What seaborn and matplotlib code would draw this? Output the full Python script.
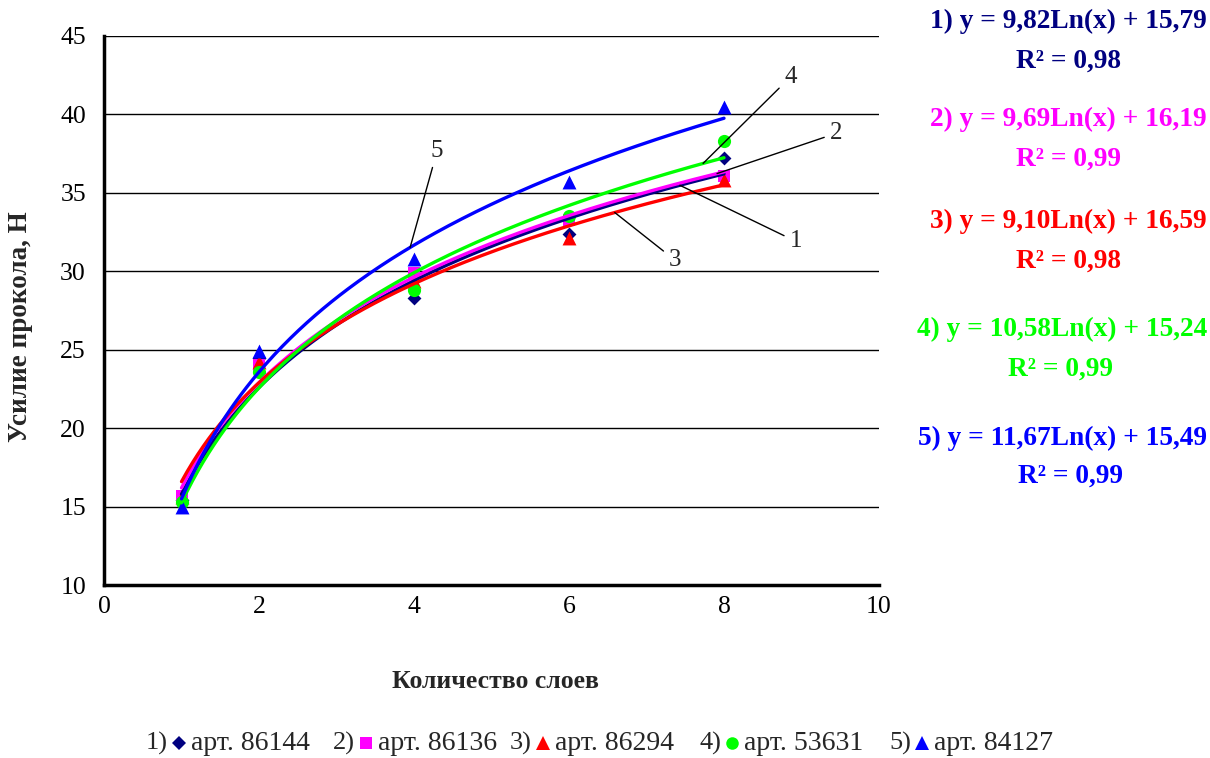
import numpy as np
import pandas as pd
import matplotlib
matplotlib.use("Agg")
import matplotlib.pyplot as plt
from matplotlib.lines import Line2D
import seaborn as sns

# Measured puncture force for each fabric article vs. number of layers
layers = [1, 2, 4, 6, 8]
art_86144 = [15.4, 24.5, 28.3, 32.4, 37.2]
art_86136 = [15.7, 24.0, 29.9, 33.3, 36.1]
art_86294 = [15.6, 24.2, 29.4, 32.1, 35.8]
art_53631 = [15.3, 23.6, 28.8, 33.5, 38.3]
art_84127 = [15.0, 24.9, 30.8, 35.7, 40.5]

series_names = ["арт. 86144", "арт. 86136", "арт. 86294", "арт. 53631", "арт. 84127"]
series_values = [art_86144, art_86136, art_86294, art_53631, art_84127]

# Logarithmic trend coefficients y = a*Ln(x) + b and R²
trend_a = [9.82, 9.69, 9.10, 10.58, 11.67]
trend_b = [15.79, 16.19, 16.59, 15.24, 15.49]
trend_r2 = [0.98, 0.99, 0.98, 0.99, 0.99]

colors = ["#000080", "#FF00FF", "#FF0000", "#00FF00", "#0000FF"]
markers = ["D", "s", "^", "o", "^"]
marker_sizes = [50, 70, 100, 90, 100]

sns.set_style("white")
plt.rcParams["font.family"] = ["Liberation Serif", "DejaVu Serif"]

W, H = 1210, 758
fig = plt.figure(figsize=(W / 100, H / 100), dpi=100)
ax = fig.add_axes([104 / W, 1 - 585 / H, (879 - 104) / W, (585 - 36) / H])

pts = pd.DataFrame({
    "layers": np.tile(layers, len(series_names)),
    "force": np.concatenate(series_values),
    "series": np.repeat(series_names, len(layers)),
})

for name, col, mk, sz in zip(series_names, colors, markers, marker_sizes):
    sns.scatterplot(data=pts[pts["series"] == name], x="layers", y="force",
                    color=col, marker=mk, s=sz, linewidth=0, ax=ax,
                    legend=False, zorder=3)

xs = np.linspace(min(layers), max(layers), 200)
curves = pd.DataFrame({
    "layers": np.tile(xs, len(series_names)),
    "force": np.concatenate([a * np.log(xs) + b for a, b in zip(trend_a, trend_b)]),
    "series": np.repeat(series_names, len(xs)),
})
sns.lineplot(data=curves, x="layers", y="force", hue="series",
             palette=dict(zip(series_names, colors)), linewidth=2.4,
             legend=False, ax=ax, zorder=4, sort=False)

ax.set_xlim(0, 10)
ax.set_ylim(10, 45)
ax.set_xticks(range(0, 11, 2))
ax.set_yticks(range(10, 46, 5))
ax.yaxis.grid(True, color="black", linewidth=1)
ax.xaxis.grid(False)
ax.set_axisbelow(True)
for side in ["top", "right"]:
    ax.spines[side].set_visible(False)
for side in ["left", "bottom"]:
    ax.spines[side].set_linewidth(2.5)
    ax.spines[side].set_color("black")
ax.tick_params(axis="both", direction="out", length=5, width=2.5,
               labelsize=18.5, colors="black")
ax.tick_params(axis="y", pad=8)
ax.tick_params(axis="x", pad=3)

ax.set_xlabel("Количество слоев", fontsize=18.5, fontweight="bold")
ax.set_ylabel("Усилие прокола, Н", fontsize=19.5, fontweight="bold")
ax.xaxis.set_label_coords((495 - 104) / 775, -(682 - 585) / 549)
ax.yaxis.set_label_coords((20 - 104) / 775, (585 - 327) / 549)
ax.xaxis.label.set_va("center")
ax.yaxis.label.set_va("center")

# Numbered callouts pointing at each trend curve
callouts = [
    ("1", 7.43, (8.93, 31.9)),
    ("2", 7.91, (9.45, 38.8)),
    ("3", 6.59, (7.37, 30.7)),
    ("4", 7.73, (8.86, 42.4)),
    ("5", 3.95, (4.30, 37.7)),
]
for i, (lbl, xc, txt) in enumerate(callouts):
    yc = trend_a[i] * np.log(xc) + trend_b[i]
    ax.annotate(lbl, xy=(xc, yc), xytext=txt, fontsize=18, ha="center", va="center",
                arrowprops=dict(arrowstyle="-", color="black", lw=1, shrinkA=2, shrinkB=0),
                zorder=5)

# Trend equations on the right
eq_y = [21, 119, 221, 329, 438]
r2_y = [61, 159, 261, 369, 476]
r2_x = [1068, 1068, 1069, 1061, 1070]
for i in range(5):
    a_txt = f"{trend_a[i]:.2f}".replace(".", ",")
    b_txt = f"{trend_b[i]:.2f}".replace(".", ",")
    fig.text(1207 / W, 1 - eq_y[i] / H, f"{i + 1}) y = {a_txt}Ln(x) + {b_txt}",
             color=colors[i], fontsize=19.7, fontweight="bold", ha="right", va="center")
    r_txt = f"{trend_r2[i]:.2f}".replace(".", ",")
    fig.text(r2_x[i] / W, 1 - r2_y[i] / H, f"R² = {r_txt}",
             color=colors[i], fontsize=19.7, fontweight="bold", ha="center", va="center")

# Bottom legend: "N) marker label"
leg_y = 1 - 743 / H
leg_x = [146, 333, 510, 699, 889]
for i in range(5):
    x0 = leg_x[i]
    fig.text(x0 / W, leg_y, f"{i + 1})", fontsize=19, ha="left", va="center")
    fig.add_artist(Line2D([(x0 + 33) / W], [leg_y], transform=fig.transFigure,
                          marker=markers[i], color=colors[i], linestyle="none",
                          markersize=np.sqrt(marker_sizes[i]) * 0.95, markeredgewidth=0))
    fig.text((x0 + 45) / W, leg_y, series_names[i], fontsize=20, ha="left", va="center")

fig.savefig("out.png", dpi=100)
